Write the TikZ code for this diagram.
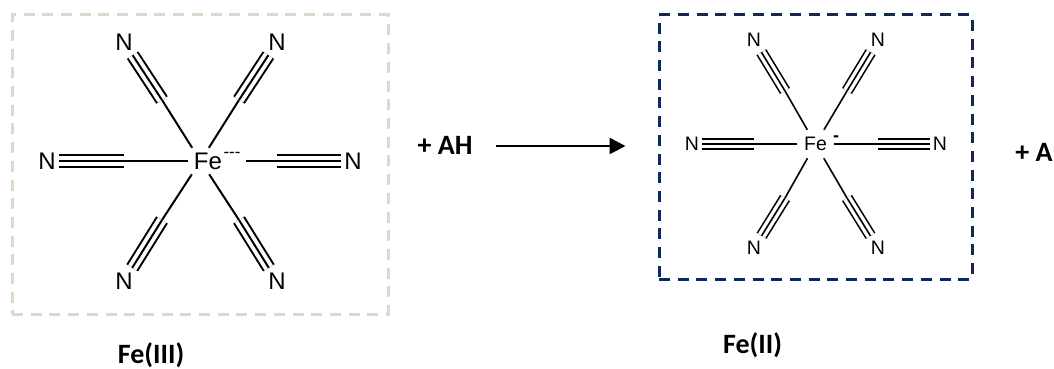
\documentclass[tikz,border=0pt]{standalone}
\usepackage{xcolor}
\usepackage{fontspec}
\usepackage{tikz}
\usetikzlibrary{arrows.meta}
\usetikzlibrary{positioning}
\newfontfamily\atomfont{Liberation Sans}
\newfontfamily\labelfont{Carlito}
\definecolor{beige}{HTML}{DDD9C3}
\definecolor{navy}{HTML}{10295C}
\tikzset{>=latex}
\tikzstyle{atomL} = [rectangle, inner sep=0, minimum width=24, minimum height=26, font=\atomfont\fontsize{24}{24}\selectfont]
\tikzstyle{atomS} = [rectangle, inner sep=0, minimum width=20, minimum height=24, font=\atomfont\fontsize{19.5}{20}\selectfont]
\tikzstyle{bondL} = [-, line width=2pt]
\tikzstyle{bondS} = [-, line width=1.6pt]
\tikzstyle{tripleL} = [-, line width=2pt, double=white, double distance=9.7pt, postaction={draw, double=none, line width=2pt}]
\tikzstyle{tripleS} = [-, line width=1.6pt, double=white, double distance=8.4pt, postaction={draw, double=none, line width=1.6pt}]
\tikzstyle{caption} = [draw=none, inner sep=0, font=\labelfont\bfseries\fontsize{28}{28}\selectfont]
\tikzstyle{dashbox} = [rectangle, line width=3pt, dash pattern=on 11pt off 7.7pt]
\begin{document}
\begin{tikzpicture}[x=1pt, y=-1pt]
\useasboundingbox (0,0) rectangle (1054,369);
\node [dashbox, draw=beige, minimum width=376, minimum height=299] (boxIII) at (200,164.5) {};
\node [dashbox, draw=navy, minimum width=313, minimum height=264] (boxII) at (815.5,147) {};

\node [atomL, minimum width=25] (FeA) at (200.5,161) {\makebox[0pt]{\hspace{15pt}Fe}};
\node [atomL, minimum width=28, font=\atomfont\fontsize{17}{17}\selectfont] (chgA) at (232,155) {-{}-{}-};
\node [atomL] (NA1) at (124,42) {N};
\node [atomL] (NA2) at (277,42) {N};
\node [atomL] (NA3) at (47,161) {N};
\node [atomL] (NA4) at (353,161) {N};
\node [atomL] (NA5) at (124,281) {N};
\node [atomL] (NA6) at (277,281) {N};
\coordinate (CA1) at (162,100);
\coordinate (CA2) at (239,100);
\coordinate (CA3) at (124,161);
\coordinate (CA4) at (277,161);
\coordinate (CA5) at (162,220);
\coordinate (CA6) at (239,220);
\draw [bondL] (FeA) to (CA1);
\draw [bondL] (FeA) to (CA2);
\draw [bondL] (FeA) to (CA3);
\draw [bondL] (chgA.east |- CA4) to (CA4);
\draw [bondL] (FeA) to (CA5);
\draw [bondL] (FeA) to (CA6);
\draw [tripleL] (CA1) to (NA1);
\draw [tripleL] (CA2) to (NA2);
\draw [tripleL] (CA3) to (NA3);
\draw [tripleL] (CA4) to (NA4);
\draw [tripleL] (CA5) to (NA5);
\draw [tripleL] (CA6) to (NA6);

\node [atomS, minimum width=36, minimum height=28] (FeB) at (815.5,144) {Fe};
\node [atomS, inner sep=0, minimum width=6, minimum height=3, font=\atomfont\bfseries\fontsize{18}{18}\selectfont] (chgB) at (836,139) {-};
\node [atomS] (NB1) at (754,40) {N};
\node [atomS] (NB2) at (878,40) {N};
\node [atomS] (NB3) at (692,144) {N};
\node [atomS] (NB4) at (940,144) {N};
\node [atomS] (NB5) at (754,248) {N};
\node [atomS] (NB6) at (878,248) {N};
\coordinate (CB1) at (785,91);
\coordinate (CB2) at (847,91);
\coordinate (CB3) at (754,144);
\coordinate (CB4) at (878,144);
\coordinate (CB5) at (785,198);
\coordinate (CB6) at (847,198);
\draw [bondS] (FeB) to (CB1);
\draw [bondS] (FeB) to (CB2);
\draw [bondS] (FeB) to (CB3);
\draw [bondS] (FeB) to (CB4);
\draw [bondS] (FeB) to (CB5);
\draw [bondS] (FeB) to (CB6);
\draw [tripleS] (CB1) to (NB1);
\draw [tripleS] (CB2) to (NB2);
\draw [tripleS] (CB3) to (NB3);
\draw [tripleS] (CB4) to (NB4);
\draw [tripleS] (CB5) to (NB5);
\draw [tripleS] (CB6) to (NB6);

\node [caption] (AH) at (445,145) {+ AH};
\node [caption] (A) at (1034,152) {+ A};
\node [caption] (capIII) at (151,355.5) {Fe(III)};
\node [caption] (capII) at (752.5,345) {Fe(II)};
\coordinate (arrS) at (496,146);
\coordinate (arrE) at (625.5,146);
\draw [-{Triangle[length=16,width=16]}, line width=2.6pt] (arrS) to (arrE);
\end{tikzpicture}
\end{document}
